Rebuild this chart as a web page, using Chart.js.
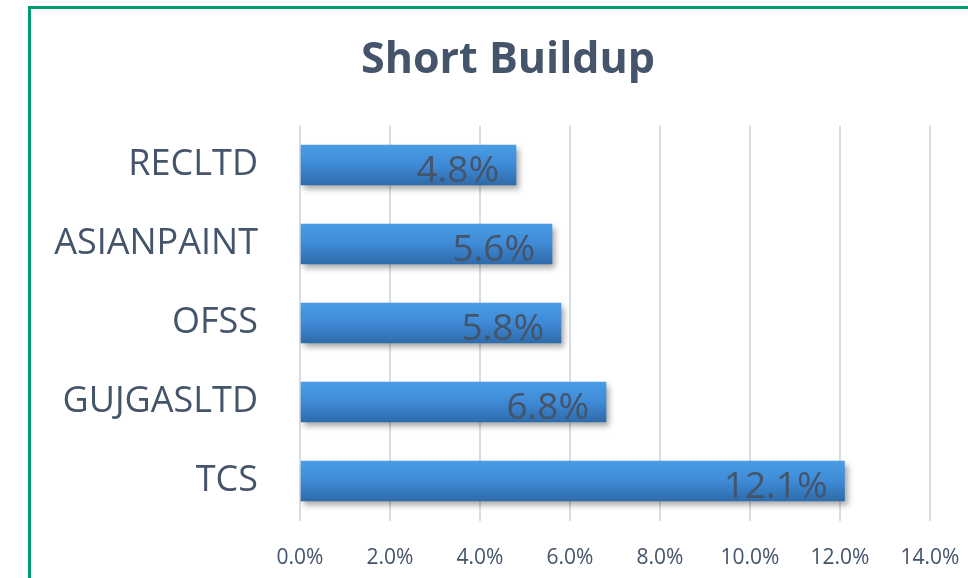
<!DOCTYPE html>
<html><head><meta charset="utf-8">
<script src="https://cdn.jsdelivr.net/npm/chart.js@4"></script>
<style>
html,body{margin:0;padding:0;background:#fff;overflow:hidden}
#wrap{position:relative;width:968px;height:578px}
#frame{position:absolute;left:28px;top:6px;width:1000px;height:700px;border:3px solid #009B72;box-sizing:border-box}
canvas{position:absolute;left:0;top:0}
</style></head>
<body><div id="wrap"><div id="frame"></div><canvas id="c" width="968" height="578"></canvas></div>
<script>
const chartTitle = 'Short Buildup';
const categories = ['RECLTD','ASIANPAINT','OFSS','GUJGASLTD','TCS'];
const values = [0.048, 0.056, 0.058, 0.068, 0.121];
const axisMax = 0.14;
const axisStep = 0.02;

const FONT = '"Open Sans", sans-serif';
const TXT = '#44546A';

const shadowPlugin = {
  id:'shadow',
  beforeDatasetsDraw(chart){const c=chart.ctx;c.save();c.shadowColor='rgba(0,0,0,0.35)';c.shadowBlur=6;c.shadowOffsetX=3;c.shadowOffsetY=4;},
  afterDatasetsDraw(chart){chart.ctx.restore();}
};
const labelPlugin = {
  id:'labels',
  afterDatasetsDraw(chart){
    const c=chart.ctx; const meta=chart.getDatasetMeta(0);
    c.save(); c.font='37px '+FONT; c.fillStyle=TXT; c.textAlign='right'; c.textBaseline='alphabetic';
    meta.data.forEach((el,i)=>{ c.fillText((values[i]*100).toFixed(1)+'%', el.x-17, el.y+17); });
    c.restore();
  }
};
const titlePlugin = {
  id:'ttl',
  afterDraw(chart){const c=chart.ctx;c.save();c.font='bold 43px '+FONT;c.fillStyle=TXT;c.textAlign='center';c.textBaseline='alphabetic';c.fillText(chartTitle,508,73);c.restore();}
};

new Chart(document.getElementById('c'),{
  type:'bar',
  data:{labels:categories,datasets:[{data:values,
    backgroundColor(ctx){
      const chart=ctx.chart; const ys=chart.scales && chart.scales.y;
      if(!ys||ctx.dataIndex===undefined) return '#3D85D1';
      const yc=ys.getPixelForValue(ctx.dataIndex);
      if(!isFinite(yc)) return '#3D85D1';
      const g=chart.ctx.createLinearGradient(0,yc-20,0,yc+20);
      g.addColorStop(0,'#4A9CE5');g.addColorStop(0.5,'#3F8AD6');g.addColorStop(1,'#2E6BAA');
      return g;
    },
    borderWidth:0, barThickness:40}]},
  options:{
    indexAxis:'y', responsive:false, animation:false,
    layout:{padding:{left:0,right:38,top:125.5,bottom:0}},
    plugins:{legend:{display:false},tooltip:{enabled:false},title:{display:false}},
    scales:{
      x:{min:0,max:axisMax,position:'bottom',
        ticks:{stepSize:axisStep,color:TXT,font:{family:FONT,size:21},padding:25,
          callback:v=>(v*100).toFixed(1)+'%'},
        grid:{color:'#D9DDE3',lineWidth:2,drawTicks:false},border:{display:false},
        afterFit(s){s.height=57.5;s.paddingLeft=0;s.paddingRight=0;}},
      y:{ticks:{color:TXT,font:{family:FONT,size:36},padding:42},
        grid:{display:false,drawTicks:false},border:{display:false},
        afterFit(s){s.width=300;s.paddingTop=0;s.paddingBottom=0;}}
    }
  },
  plugins:[shadowPlugin,labelPlugin,titlePlugin]
});
</script></body></html>
